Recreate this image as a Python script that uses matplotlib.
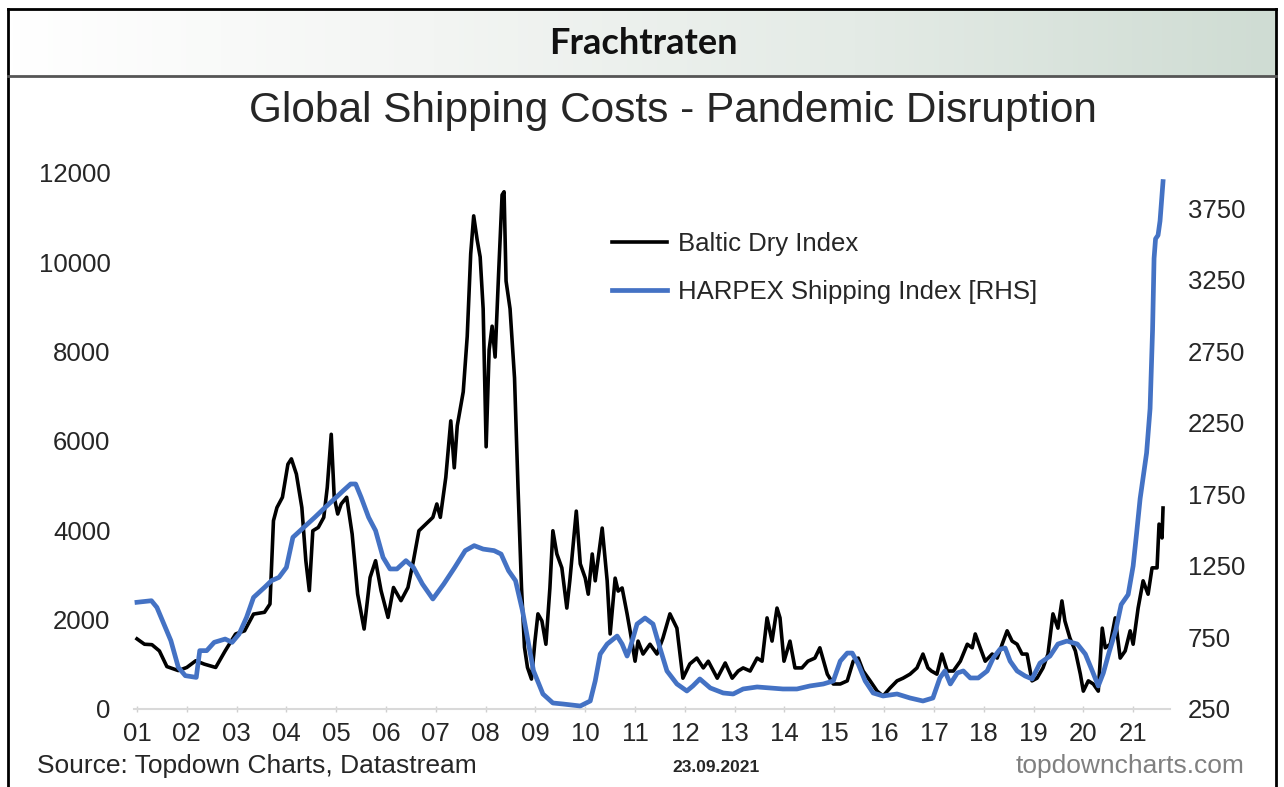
import matplotlib
matplotlib.use("Agg")
import matplotlib.pyplot as plt
import numpy as np
from matplotlib.colors import LinearSegmentedColormap
from matplotlib.lines import Line2D

# ---------------- data ----------------
bdi_t = [2001.00, 2001.15, 2001.30, 2001.45, 2001.60, 2001.83, 2002.00, 2002.18, 2002.35, 2002.58,
         2002.77, 2002.98, 2003.16, 2003.34, 2003.56, 2003.67, 2003.74, 2003.81, 2003.92, 2004.03,
         2004.10, 2004.20, 2004.31, 2004.39, 2004.46, 2004.53, 2004.64, 2004.75, 2004.82, 2004.90,
         2004.96, 2005.03, 2005.10, 2005.21, 2005.32, 2005.43, 2005.56, 2005.68, 2005.79, 2005.90,
         2006.04, 2006.15, 2006.30, 2006.44, 2006.55, 2006.66, 2006.80, 2006.94, 2007.02, 2007.09,
         2007.20, 2007.30, 2007.37, 2007.43, 2007.55, 2007.63, 2007.70, 2007.76, 2007.83, 2007.89,
         2007.95, 2008.01, 2008.07, 2008.13, 2008.19, 2008.26, 2008.33, 2008.37, 2008.41, 2008.49,
         2008.58, 2008.65, 2008.72, 2008.78, 2008.84, 2008.92, 2008.99, 2009.05, 2009.13, 2009.21,
         2009.29, 2009.35, 2009.43, 2009.53, 2009.63, 2009.69, 2009.82, 2009.90, 2010.00, 2010.06,
         2010.14, 2010.20, 2010.34, 2010.44, 2010.50, 2010.60, 2010.66, 2010.74, 2010.84, 2010.90,
         2011.00, 2011.06, 2011.16, 2011.30, 2011.44, 2011.56, 2011.70, 2011.84, 2011.96, 2012.10,
         2012.24, 2012.37, 2012.47, 2012.65, 2012.81, 2012.95, 2013.07, 2013.17, 2013.31, 2013.45,
         2013.55, 2013.65, 2013.75, 2013.85, 2013.91, 2013.99, 2014.11, 2014.21, 2014.35, 2014.47,
         2014.61, 2014.71, 2014.86, 2014.98, 2015.12, 2015.26, 2015.38, 2015.48, 2015.58, 2015.72,
         2015.86, 2015.98, 2016.12, 2016.26, 2016.38, 2016.52, 2016.66, 2016.78, 2016.88, 2016.95,
         2017.06, 2017.16, 2017.27, 2017.39, 2017.53, 2017.67, 2017.77, 2017.83, 2017.93, 2018.03,
         2018.17, 2018.27, 2018.37, 2018.47, 2018.57, 2018.67, 2018.77, 2018.87, 2018.97, 2019.07,
         2019.19, 2019.29, 2019.39, 2019.49, 2019.57, 2019.63, 2019.73, 2019.84, 2019.94, 2020.00,
         2020.10, 2020.20, 2020.30, 2020.38, 2020.44, 2020.54, 2020.64, 2020.74, 2020.84, 2020.94,
         2021.00, 2021.10, 2021.20, 2021.30, 2021.38, 2021.48, 2021.52, 2021.58, 2021.60]
bdi_v = [1570, 1450, 1440, 1300, 950, 860, 930, 1080, 1005, 930,
         1300, 1680, 1750, 2125, 2165, 2350, 4215, 4510, 4740, 5480,
         5600, 5260, 4510, 3320, 2650, 3990, 4065, 4290, 4960, 6150,
         4740, 4365, 4590, 4740, 3915, 2575, 1790, 2945, 3320, 2650,
         2050, 2720, 2425, 2720, 3320, 3990, 4140, 4290, 4590, 4290,
         5185, 6450, 5400, 6340, 7100, 8340, 10190, 11040, 10500, 10120,
         8960, 5870, 8040, 8570, 7880, 9740, 11510, 11580, 9580, 8960,
         7410, 4960, 2720, 1380, 930, 670, 1520, 2130, 1970, 1450,
         2710, 3990, 3470, 3160, 2260, 2870, 4430, 3250, 2930, 2570,
         3470, 2870, 4050, 2870, 1680, 2930, 2640, 2710, 2130, 1750,
         1070, 1520, 1230, 1450, 1230, 1590, 2130, 1810, 690, 1010,
         1140, 920, 1070, 690, 1030, 690, 850, 920, 850, 1140,
         1070, 2040, 1520, 2260, 2040, 1070, 1520, 920, 920, 1070,
         1140, 1370, 780, 560, 560, 630, 1070, 1140, 850, 630,
         400, 290, 470, 630, 690, 780, 920, 1230, 920, 850,
         780, 1230, 850, 850, 1070, 1450, 1370, 1680, 1370, 1070,
         1230, 1140, 1450, 1750, 1520, 1450, 1230, 1230, 630, 690,
         920, 1230, 2130, 1810, 2420, 1970, 1590, 1300, 780, 400,
         630, 560, 400, 1810, 1370, 1450, 2040, 1140, 1300, 1750,
         1450, 2260, 2870, 2570, 3160, 3160, 4140, 3830, 4500]

harpex_t = [2001.00, 2001.29, 2001.40, 2001.54, 2001.68, 2001.83, 2001.97, 2002.19, 2002.26, 2002.40,
            2002.55, 2002.77, 2002.91, 2003.05, 2003.20, 2003.34, 2003.56, 2003.70, 2003.85, 2004.00,
            2004.13, 2004.35, 2004.57, 2004.78, 2005.00, 2005.14, 2005.29, 2005.39, 2005.50, 2005.65,
            2005.79, 2005.94, 2006.08, 2006.22, 2006.40, 2006.55, 2006.73, 2006.94, 2007.16, 2007.38,
            2007.59, 2007.77, 2007.95, 2008.17, 2008.31, 2008.46, 2008.60, 2008.74, 2008.85, 2008.96,
            2009.15, 2009.35, 2009.55, 2009.90, 2010.10, 2010.20, 2010.30, 2010.44, 2010.64, 2010.74,
            2010.84, 2010.90, 2011.04, 2011.20, 2011.36, 2011.50, 2011.64, 2011.84, 2012.04, 2012.16,
            2012.30, 2012.51, 2012.77, 2012.97, 2013.17, 2013.45, 2013.71, 2013.97, 2014.25, 2014.51,
            2014.78, 2014.98, 2015.12, 2015.26, 2015.36, 2015.48, 2015.62, 2015.78, 2015.98, 2016.26,
            2016.52, 2016.78, 2016.98, 2017.12, 2017.22, 2017.33, 2017.47, 2017.59, 2017.73, 2017.89,
            2018.07, 2018.19, 2018.33, 2018.43, 2018.53, 2018.67, 2018.83, 2018.97, 2019.13, 2019.33,
            2019.49, 2019.67, 2019.88, 2020.04, 2020.18, 2020.30, 2020.40, 2020.52, 2020.65, 2020.76,
            2020.90, 2021.00, 2021.07, 2021.14, 2021.27, 2021.34, 2021.39, 2021.42, 2021.45, 2021.50,
            2021.54, 2021.60]
harpex_v = [996, 1007, 960, 844, 728, 541, 483, 471, 658, 658,
            716, 739, 716, 774, 891, 1030, 1100, 1147, 1170, 1240,
            1450, 1520, 1590, 1660, 1730, 1776, 1823, 1823, 1730, 1590,
            1497, 1310, 1229, 1229, 1287, 1240, 1124, 1019, 1124, 1240,
            1357, 1392, 1368, 1357, 1333, 1217, 1147, 937, 728, 518,
            355, 292, 285, 271, 306, 446, 634, 704, 760, 704,
            620, 676, 844, 886, 844, 676, 516, 425, 376, 411,
            460, 397, 362, 355, 390, 404, 397, 390, 390, 411,
            425, 446, 585, 641, 641, 565, 446, 362, 341, 355,
            327, 306, 327, 467, 516, 425, 502, 516, 467, 467,
            516, 606, 669, 676, 585, 516, 481, 460, 571, 620,
            704, 725, 704, 634, 516, 411, 500, 650, 800, 980,
            1050, 1250, 1480, 1720, 2040, 2350, 2900, 3400, 3537, 3562,
            3662, 3937]

year_ticks = list(range(2001, 2022))
year_labels = ["%02d" % (y - 2000) for y in year_ticks]
left_ticks = [0, 2000, 4000, 6000, 8000, 10000, 12000]
right_ticks = [250, 750, 1250, 1750, 2250, 2750, 3250, 3750]

BLACK = "#000000"
BLUE = "#4472C4"
TXT = "#262626"

W, H = 1284, 787
fig = plt.figure(figsize=(W / 100, H / 100), dpi=100)
fig.patch.set_facecolor("white")


def fx(px):
    return px / W


def fy(py):
    return 1 - py / H


# header band with gradient
hax = fig.add_axes([fx(8), fy(76), fx(1276) - fx(8), fy(9) - fy(76)])
cmap = LinearSegmentedColormap.from_list("hdr", ["#ffffff", "#f3f5f3", "#e4ebe6", "#cfdcd3"])
grad = np.linspace(0, 1, 256).reshape(1, -1)
hax.imshow(grad, aspect="auto", cmap=cmap, extent=[0, 1, 0, 1])
hax.set_axis_off()
fig.text(fx(643), fy(44), "Frachtraten", ha="center", va="center",
         fontsize=26, fontweight="bold", family="Lato", color="#111111")

# borders
fig.add_artist(Line2D([fx(8), fx(1276)], [fy(9), fy(9)], color="black", lw=2))
fig.add_artist(Line2D([fx(8), fx(8)], [fy(9), 0], color="black", lw=2))
fig.add_artist(Line2D([fx(1276), fx(1276)], [fy(9), 0], color="black", lw=2))
fig.add_artist(Line2D([fx(8), fx(1276)], [fy(76), fy(76)], color="#555555", lw=2))

# title
fig.text(fx(673), fy(111), "Global Shipping Costs - Pandemic Disruption", ha="center", va="center",
         fontsize=30.5, family="Liberation Sans", color=TXT)

# main axes
ax = fig.add_axes([fx(134), fy(709), fx(1170) - fx(134), fy(173) - fy(709)])
ax2 = ax.twinx()

l1, = ax.plot(bdi_t, bdi_v, color=BLACK, lw=2.6, solid_joinstyle="round")
l2, = ax2.plot(harpex_t, harpex_v, color=BLUE, lw=3.4, solid_joinstyle="round")

ax.set_xlim(2000.94, 2021.74)
ax.set_ylim(0, 12000)
ax2.set_ylim(250, 3997)

ax.set_xticks(year_ticks)
ax.set_xticklabels(year_labels, family="Liberation Sans", fontsize=18.5, color=TXT)
ax.set_yticks(left_ticks)
ax.set_yticklabels([str(v) for v in left_ticks], family="Liberation Sans", fontsize=18.5, color=TXT)
ax2.set_yticks(right_ticks)
ax2.set_yticklabels([str(v) for v in right_ticks], family="Liberation Sans", fontsize=18.5, color=TXT)

ax.tick_params(axis="x", length=5, width=1, color="#d0d0d0", pad=7, direction="inout")
ax.tick_params(axis="y", length=0, pad=17)
ax2.tick_params(axis="y", length=0, pad=13)

for a in (ax, ax2):
    for s in ("top", "left", "right", "bottom"):
        a.spines[s].set_visible(False)
ax.spines["bottom"].set_visible(True)
ax.spines["bottom"].set_color("#d9d9d9")
ax.spines["bottom"].set_linewidth(1.5)
ax.patch.set_alpha(0)

leg = ax2.legend([l1, l2], ["Baltic Dry Index", "HARPEX Shipping Index [RHS]"],
                 loc="upper left", bbox_to_anchor=(fx(612), fy(232)), bbox_transform=fig.transFigure,
                 frameon=False, prop={"family": "Liberation Sans", "size": 18.5},
                 handlelength=2.15, handletextpad=0.4, labelspacing=0.95,
                 borderpad=0, borderaxespad=0)
for t in leg.get_texts():
    t.set_color(TXT)

# footer
fig.text(fx(37), fy(766), "Source: Topdown Charts, Datastream", ha="left", va="center",
         fontsize=19, family="Liberation Sans", color=TXT)
fig.text(fx(672), fy(768), "23.09.2021", ha="left", va="center",
         fontsize=12.5, fontweight="bold", family="Liberation Sans", color=TXT)
fig.text(fx(1245), fy(766), "topdowncharts.com", ha="right", va="center",
         fontsize=19, family="Liberation Sans", color="#808080")

fig.savefig("out.png", dpi=100)
